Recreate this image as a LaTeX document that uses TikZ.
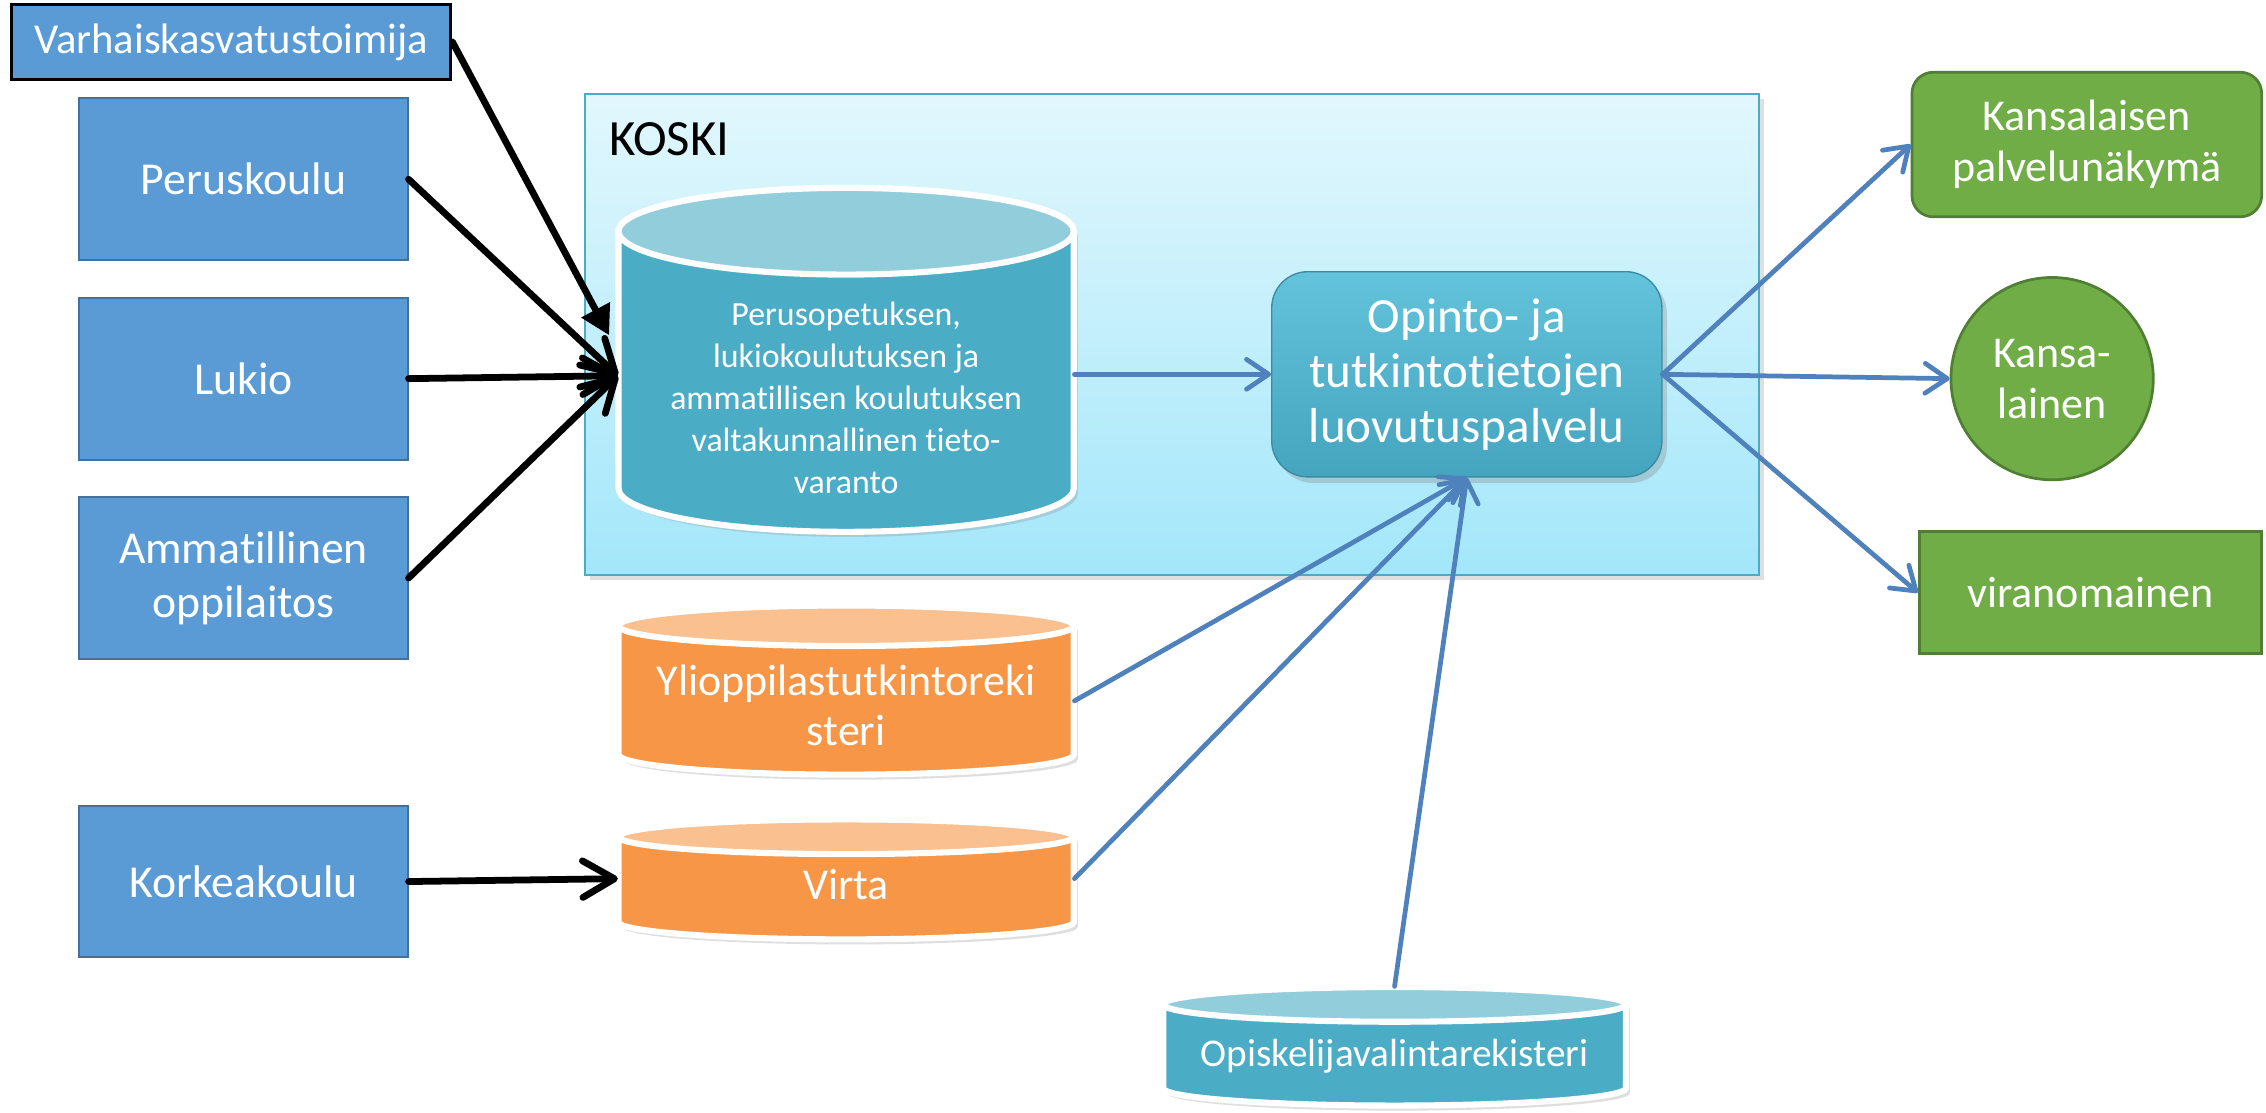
\documentclass[tikz,border=0pt]{standalone}
\usepackage{fontspec}
\setmainfont{Carlito}[Ligatures={NoCommon,NoContextual,NoRare}]
\usetikzlibrary{arrows.meta,shadows}
\definecolor{boxblue}{HTML}{5B9BD5}
\definecolor{boxblueD}{HTML}{41719C}
\definecolor{grn}{HTML}{70AD47}
\definecolor{grnD}{HTML}{507E32}
\definecolor{cylteal}{HTML}{4BACC6}
\definecolor{cyltealtop}{HTML}{92CDDC}
\definecolor{orng}{HTML}{F79646}
\definecolor{orngtop}{HTML}{FAC090}
\definecolor{arrblue}{HTML}{4F81BD}
\definecolor{kosTop}{HTML}{E2F7FD}
\definecolor{kosBot}{HTML}{A3E7FA}
\definecolor{kosD}{HTML}{4BACC6}
\definecolor{opTop}{HTML}{62C3DB}
\definecolor{opBot}{HTML}{45A4BE}
\newcommand\cylinderdraw[7]{%
  \path[fill=#6, draw=white, line width=1.8pt,
        drop shadow={opacity=0.25,shadow xshift=1.2pt,shadow yshift=-1.5pt}]
    (#1-#4,-#2) -- (#1-#4,-#3)
    arc[start angle=180,end angle=360,x radius=#4,y radius=#5]
    -- (#1+#4,-#2)
    arc[start angle=0,end angle=180,x radius=#4,y radius=#5] -- cycle;
  \path[fill=#7, draw=white, line width=1.8pt] (#1,-#2) ellipse [x radius=#4, y radius=#5];
}
\begin{document}
\begin{tikzpicture}[x=0.015cm,y=0.015cm,
  srcbox/.style={draw=boxblueD, line width=0.6pt, fill=boxblue, text=white,
    minimum width=3.405cm, minimum height=1.68cm, align=center,
    font=\fontsize{13.5}{15.8}\selectfont},
  greenbox/.style={draw=grnD, line width=0.8pt, fill=grn, text=white, align=center,
    font=\fontsize{13}{15}\selectfont},
  anchorbox/.style={inner sep=0pt, minimum width=#1},
  cyltext/.style={text=white, align=center},
  blackarr/.style={draw=black, line width=2pt, line cap=round,
    -{Straight Barb[length=3.3mm,width=3.8mm,round]}},
  bluearr/.style={draw=arrblue, line width=1.4pt, line cap=round,
    -{Straight Barb[length=2.3mm,width=3.1mm,round]}}
]
\useasboundingbox (0,0) rectangle (1568,-770);

% KOSKI container
\path[top color=kosTop, bottom color=kosBot, draw=kosD, line width=0.7pt,
      drop shadow={opacity=0.25,shadow xshift=1.5pt,shadow yshift=-1.5pt}]
  (405,-65) rectangle (1217,-398);
\node[anchor=west, font=\fontsize{15}{18}\selectfont, inner sep=0pt] (koski) at (421,-96) {KOSKI};

% cylinders
\cylinderdraw{585.5}{160}{338}{157.5}{30}{cylteal}{cyltealtop}
\node[anchorbox=4.725cm, minimum height=2.6cm] (varanto) at (585.5,-260) {};
\node[cyltext, font=\fontsize{10}{12.4}\selectfont] (varantotxt) at (585.5,-275)
  {Perusopetuksen,\\lukiokoulutuksen ja\\ammatillisen koulutuksen\\valtakunnallinen tieto-\\varanto};

\cylinderdraw{585.5}{433}{522}{157.5}{14}{orng}{orngtop}
\node[anchorbox=4.725cm, minimum height=1.3cm] (ylio) at (585.5,-485) {};
\node[cyltext, font=\fontsize{13}{14.9}\selectfont] (yliotxt) at (585.5,-488)
  {Ylioppilastutkintoreki\\steri};

\cylinderdraw{585.5}{579}{638}{157.5}{12}{orng}{orngtop}
\node[anchorbox=4.725cm, minimum height=0.9cm] (virta) at (585.5,-608) {};
\node[cyltext, font=\fontsize{13}{15}\selectfont] (virtatxt) at (585.5,-612) {Virta};

\cylinderdraw{965}{695}{753}{160}{12}{cylteal}{cyltealtop}
\node[anchorbox=4.8cm, minimum height=1.23cm] (opisk) at (965,-724) {};
\node[cyltext, font=\fontsize{11.6}{14}\selectfont] (opisktxt) at (965,-731) {Opiskelijavalintarekisteri};

% Opinto box
\node[rounded corners=0.375cm, top color=opTop, bottom color=opBot, draw=opBot!85!black,
      line width=0.4pt, minimum width=4.05cm, minimum height=2.13cm, text=white,
      align=center, font=\fontsize{14.5}{16.2}\selectfont,
      drop shadow={opacity=0.3,shadow xshift=1.5pt,shadow yshift=-1.8pt}]
  (op) at (1015,-259) {Opinto- ja\\tutkintotietojen\\luovutuspalvelu};

% left source boxes
\node[draw=black, line width=0.9pt, fill=boxblue, text=white, minimum width=4.56cm,
      minimum height=0.78cm, font=\fontsize{12.6}{14}\selectfont]
  (vk) at (160,-29) {Varhaiskasvatustoimija};
\node[srcbox] (pk) at (168.5,-124) {Peruskoulu};
\node[srcbox] (lk) at (168.5,-262) {Lukio};
\node[srcbox] (am) at (168.5,-400) {Ammatillinen\\oppilaitos};
\node[srcbox, minimum height=1.56cm] (kk) at (168.5,-610) {Korkeakoulu};

% right targets
\node[greenbox, rounded corners=0.22cm, minimum width=3.63cm, minimum height=1.5cm]
  (kp) at (1444,-100) {Kansalaisen\\palvelunäkymä};
\node[greenbox, circle, minimum size=2.1cm, inner sep=0pt] (kl) at (1420,-262) {Kansa-\\lainen};
\node[greenbox, minimum width=3.555cm, minimum height=1.26cm] (vir) at (1446.5,-410) {viranomainen};

% black arrows
\draw[draw=black, line width=2pt, line cap=round, -{Triangle[length=3mm,width=3.2mm]}]
  (vk.east) -- ([shift={(-6,28)}]varanto.west);
\draw[blackarr] (pk.east) -- (varanto.west);
\draw[blackarr] (lk.east) -- (varanto.west);
\draw[blackarr] (am.east) -- (varanto.west);
\draw[blackarr] (kk.east) -- (virta.west);

% blue arrows
\draw[bluearr] (varanto.east |- op.west) -- (op.west);
\draw[bluearr] (op.east) -- (kp.west);
\draw[bluearr] (op.east) -- (kl.west);
\draw[bluearr] (op.east) -- (vir.west);
\draw[bluearr] (ylio.east) -- (op.south);
\draw[bluearr] (virta.east) -- (op.south);
\draw[bluearr] (opisk.north) -- (op.south);
\end{tikzpicture}
\end{document}
